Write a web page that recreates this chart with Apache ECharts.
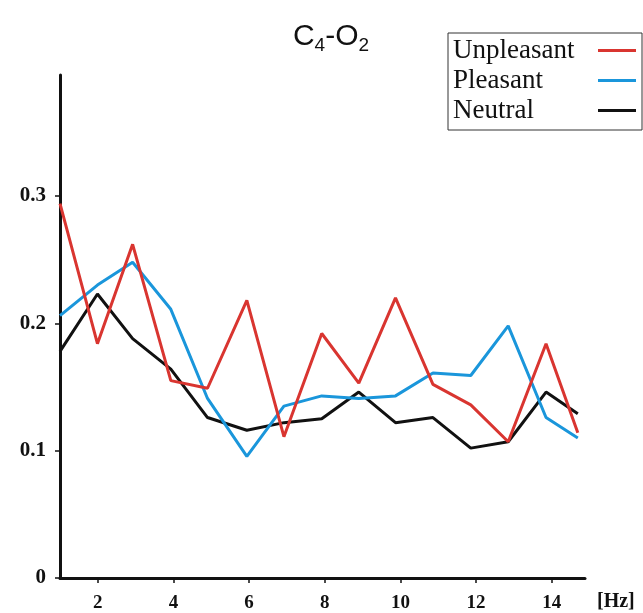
<!DOCTYPE html>
<html><head><meta charset="utf-8">
<script src="https://cdn.jsdelivr.net/npm/echarts@6/dist/echarts.min.js"></script>
<style>html,body{margin:0;padding:0;background:#fff}#c{width:643px;height:613px}</style>
</head><body><div id="c"></div>
<script>
const freqs = [1, 1.99, 2.92, 3.93, 4.90, 5.94, 6.92, 7.92, 8.90, 9.87, 10.86, 11.86, 12.85, 13.85, 14.69];
const unpleasant = [0.294, 0.184, 0.262, 0.155, 0.149, 0.218, 0.111, 0.192, 0.153, 0.220, 0.152, 0.136, 0.107, 0.184, 0.114];
const pleasant = [0.206, 0.230, 0.248, 0.211, 0.141, 0.0955, 0.135, 0.143, 0.141, 0.143, 0.161, 0.159, 0.198, 0.126, 0.110];
const neutral = [0.178, 0.223, 0.188, 0.164, 0.126, 0.116, 0.122, 0.125, 0.146, 0.122, 0.126, 0.102, 0.107, 0.146, 0.129];
const xTicks = [2, 4, 6, 8, 10, 12, 14];
const yTicks = [0, 0.1, 0.2, 0.3];
const seriesNames = ['Unpleasant', 'Pleasant', 'Neutral'];
const colors = ['#d93530', '#1a96db', '#111111'];

const pair = arr => arr.map((v, i) => [freqs[i], v]);
const chart = echarts.init(document.getElementById('c'), null, {renderer: 'canvas'});
const serif = '"Liberation Serif", "Times New Roman", serif';
const sans = '"Liberation Sans", Arial, sans-serif';
chart.setOption({
  animation: false,
  title: {
    text: 'C{s|4}-O{s|2}',
    left: 326, top: 14, textAlign: 'center',
    textStyle: {
      fontFamily: sans, fontSize: 30, fontWeight: 'normal', color: '#111',
      rich: { s: {fontFamily: sans, fontSize: 19, verticalAlign: 'bottom', padding: [17, 0, 0, 0], color: '#111'} }
    }
  },
  legend: {
    data: seriesNames.map(n => ({name: n, icon: 'path://M0,0H40V3H0Z'})),
    orient: 'vertical',
    right: 1, top: 33,
    align: 'right',
    itemWidth: 38, itemHeight: 3,
    itemGap: 3,
    padding: [4, 6, 6, 5],
    borderColor: '#333', borderWidth: 1,
    formatter: n => '{a|' + n + '}',
    textStyle: {fontFamily: serif, fontSize: 27, color: '#111',
      rich: {a: {fontFamily: serif, fontSize: 27, color: '#111', width: 140, align: 'left'}}},
    selectedMode: false
  },
  grid: {left: 60, right: 58, top: 75, bottom: 35, containLabel: false},
  xAxis: {
    type: 'value', min: 1, max: 14.88,
    axisLine: {lineStyle: {color: '#111', width: 3}},
    axisTick: {show: true, customValues: xTicks, length: 5, lineStyle: {color: '#111', width: 1.5}},
    axisLabel: {customValues: xTicks, margin: 16, fontFamily: serif, fontWeight: 'bold', fontSize: 19, color: '#111'},
    splitLine: {show: false}
  },
  yAxis: {
    type: 'value', min: 0, max: 0.395,
    axisLine: {show: true, lineStyle: {color: '#111', width: 3}},
    axisTick: {show: true, customValues: yTicks, length: 5, lineStyle: {color: '#111', width: 1.5}},
    axisLabel: {customValues: yTicks, margin: 14, fontFamily: serif, fontWeight: 'bold', fontSize: 21, color: '#111',
      formatter: v => v === 0 ? '0' : v.toFixed(1)},
    splitLine: {show: false}
  },
  graphic: [{
    type: 'text', left: 597, top: 592,
    style: {text: '[Hz]', font: 'bold 20px "Liberation Serif", "Times New Roman", serif', fill: '#111'}
  }],
  series: [unpleasant, pleasant, neutral].map((arr, i) => ({
    name: seriesNames[i], type: 'line', data: pair(arr),
    symbol: 'none', lineStyle: {color: colors[i], width: 3}, itemStyle: {color: colors[i]},
    z: 3 - i
  }))
});
</script></body></html>
